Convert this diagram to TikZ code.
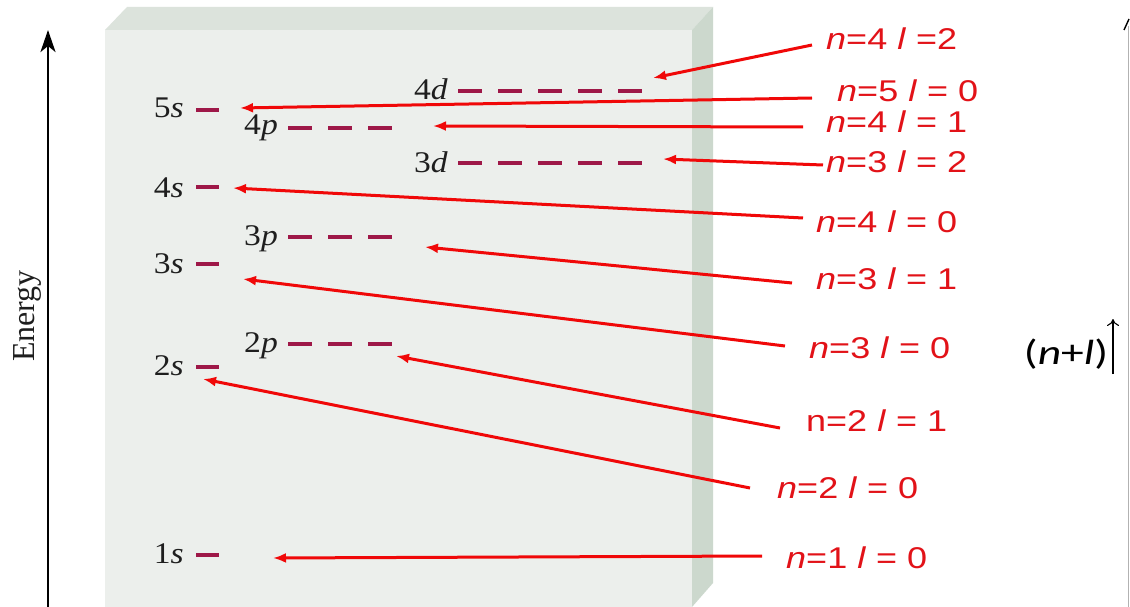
\documentclass[tikz,border=0pt]{standalone}
\usepackage{fontspec}
\setmainfont{Liberation Serif}
\newfontfamily\redfont[FakeStretch=1.2]{Liberation Sans}
\newfontfamily\lvlfont[FakeStretch=1.12]{Liberation Serif}
\newfontfamily\calfont[FakeStretch=1.3]{Carlito}
\usetikzlibrary{arrows.meta,calc}
\definecolor{frontc}{RGB}{236,239,236}
\definecolor{topc}{RGB}{220,227,220}
\definecolor{sidec}{RGB}{204,216,205}
\definecolor{orbc}{RGB}{158,24,72}
\definecolor{redtxt}{RGB}{226,18,24}
\definecolor{redarr}{RGB}{240,8,8}
\definecolor{lvltxt}{RGB}{30,30,30}
\begin{document}
\begin{tikzpicture}[x=1pt,y=-1pt,
  lvl/.style={font=\lvlfont\fontsize{30}{32}\selectfont, anchor=base east, inner sep=0pt, text=lvltxt},
  orb/.style={draw=orbc, line width=4pt},
  orbd/.style={orb, dash pattern=on 24pt off 16pt},
  redlab/.style={font=\redfont\fontsize{30}{32}\selectfont, text=redtxt, anchor=west, inner sep=0pt},
  rarrow/.style={draw=redarr, line width=3pt, -{Latex[length=13pt,width=10pt]}}
]
\useasboundingbox (0,0) rectangle (1130,607);
\fill[white] (0,0) rectangle (1130,607);
% 3D box
\fill[frontc] (105,30) rectangle (692,607);
\fill[topc] (105,30) -- (127,7) -- (713,7) -- (692,30) -- cycle;
\fill[sidec] (692,30) -- (713,7) -- (713,583) -- (692,607) -- cycle;
% energy axis
\coordinate (ebot) at (48,607);
\coordinate (etop) at (48,30);
\draw[line width=2.8pt, -{Stealth[length=22pt,width=15pt,inset=6pt]}] (ebot) -- (etop);
\node[rotate=90, font=\fontsize{32}{34}\selectfont, text=lvltxt] (energy) at (27,316) {Energy};
% level labels
\node[lvl] (l5s) at (184,118) {5\textit{s}};
\node[lvl] (l4s) at (184,197) {4\textit{s}};
\node[lvl] (l3s) at (184,273) {3\textit{s}};
\node[lvl] (l2s) at (184,375) {2\textit{s}};
\node[lvl] (l1s) at (184,563) {1\textit{s}};
\node[lvl] (l4p) at (278,135) {4\textit{p}};
\node[lvl] (l3p) at (278,245) {3\textit{p}};
\node[lvl] (l2p) at (278,352) {2\textit{p}};
\node[lvl] (l4d) at (448,100) {4\textit{d}};
\node[lvl] (l3d) at (448,172) {3\textit{d}};
% level dashes
\draw[orb] (196,110) -- (219,110);
\draw[orb] (196,187) -- (219,187);
\draw[orb] (196,264) -- (219,264);
\draw[orb] (196,367) -- (219,367);
\draw[orb] (196,555) -- (219,555);
\draw[orbd] (288,128) -- (392,128);
\draw[orbd] (288,237) -- (392,237);
\draw[orbd] (288,344) -- (392,344);
\draw[orbd] (458,91) -- (642,91);
\draw[orbd] (458,163) -- (642,163);
% red labels
\node[redlab] (t1) at (826,39) {\textit{n}=4 \textit{l} =2};
\node[redlab] (t2) at (837,91) {\textit{n}=5 \textit{l} = 0};
\node[redlab] (t3) at (826,122) {\textit{n}=4 \textit{l} = 1};
\node[redlab] (t4) at (826,162) {\textit{n}=3 \textit{l} = 2};
\node[redlab] (t5) at (816,222) {\textit{n}=4 \textit{l} = 0};
\node[redlab] (t6) at (816,279) {\textit{n}=3 \textit{l} = 1};
\node[redlab] (t7) at (809,348) {\textit{n}=3 \textit{l} = 0};
\node[redlab] (t8) at (806,421) {n=2 \textit{l} = 1};
\node[redlab] (t9) at (777,488) {\textit{n}=2 \textit{l} = 0};
\node[redlab] (t10) at (786,558) {\textit{n}=1 \textit{l} = 0};
% arrow heads
\coordinate (h1) at (653,78);
\coordinate (h2) at (240,108);
\coordinate (h3) at (433,126);
\coordinate (h4) at (663,159);
\coordinate (h5) at (233,188);
\coordinate (h6) at (425,247);
\coordinate (h7) at (243,279);
\coordinate (h8) at (396,356);
\coordinate (h9) at (203,379);
\coordinate (h10) at (273,558);
\draw[rarrow] ($(t1.west)+(-14,6)$) -- (h1);
\draw[rarrow] ($(t2.west)+(-25,7)$) -- (h2);
\draw[rarrow] ($(t3.west)+(-23,5)$) -- (h3);
\draw[rarrow] ($(t4.west)+(-3,3)$) -- (h4);
\draw[rarrow] ($(t5.west)+(-13,-4)$) -- (h5);
\draw[rarrow] ($(t6.west)+(-24,4)$) -- (h6);
\draw[rarrow] ($(t7.west)+(-24,-2)$) -- (h7);
\draw[rarrow] ($(t8.west)+(-26,7)$) -- (h8);
\draw[rarrow] ($(t9.west)+(-27,0)$) -- (h9);
\draw[rarrow] ($(t10.west)+(-24,-2)$) -- (h10);
% (n+l)
\node[font=\calfont\fontsize{35}{37}\selectfont, inner sep=0pt] (nl) at (1066,354) {(\textit{n}+\textit{l})};
\coordinate (nlb) at (1113,374);
\coordinate (nlt) at (1113,319);
\draw[line width=1.1pt, -{To[length=7pt,width=12pt]}] (nlb) -- (nlt);
% right edge line
\draw[gray!60, line width=1pt] (1128,607) -- (1128,26);
\draw[black, line width=1.4pt] (1124,30) -- (1129,19);
\end{tikzpicture}
\end{document}
